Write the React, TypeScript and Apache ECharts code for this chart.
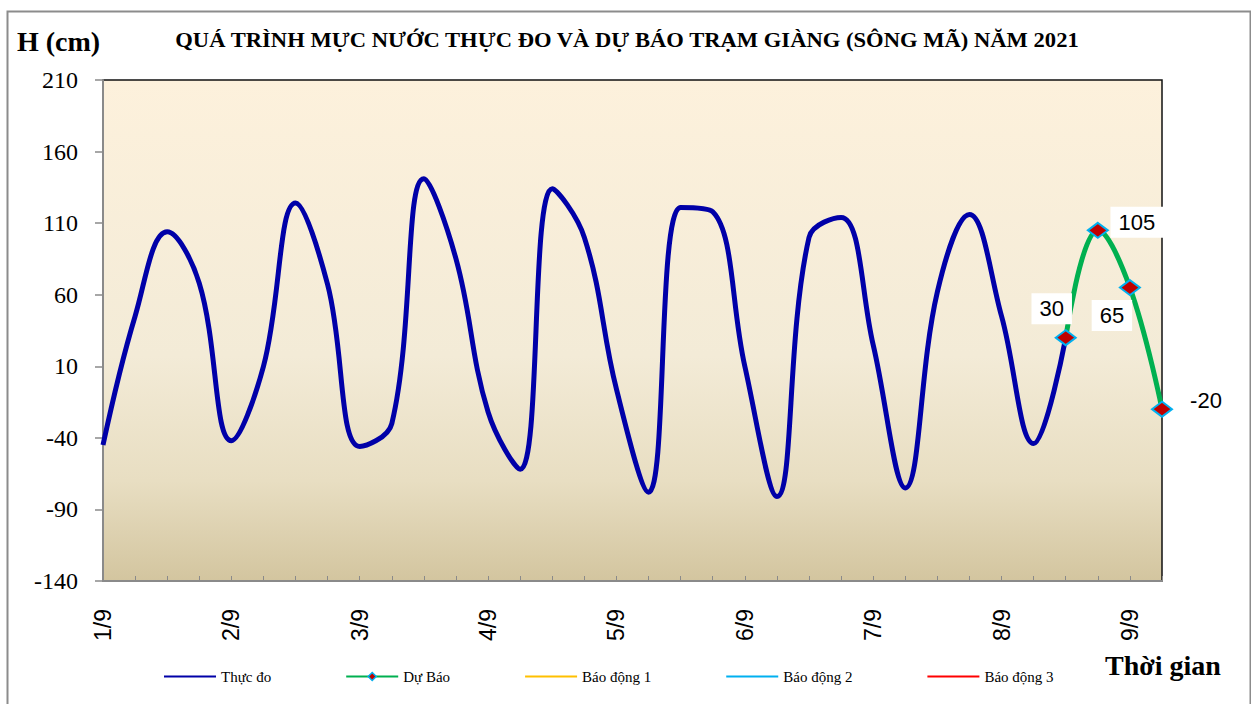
import React, { useEffect, useRef } from "react";
import * as echarts from "echarts";

const dayLabels = ["1/9", "2/9", "3/9", "4/9", "5/9", "6/9", "7/9", "8/9", "9/9"];
const hourLabels = ["1h", "7h", "13h", "19h"];
const yTicks = [-140, -90, -40, 10, 60, 110, 160, 210];

// Observed water level (cm), every 6 hours
const observed = [
  -45, 45, 104, 68, -42, 10, 124, 67, -46, -30,
  141, 85, -22, -62, 134, 100, -6, -78, 121, 118,
  10, -81, 100, 114, 25, -75, 62, 116, 45, -44,
  30,
];
// Forecast (cm), starting at the last observed point
const forecastStart = 30;
const forecast = [30, 105, 65, -20];

const titleText = "QUÁ TRÌNH MỰC NƯỚC THỰC ĐO VÀ DỰ BÁO TRẠM GIÀNG (SÔNG MÃ) NĂM 2021";
const seriesNames = ["Thực đo", "Dự Báo", "Báo động 1", "Báo động 2", "Báo động 3"];
const alarmColors = ["#FFC000", "#00B0F0", "#FF0000"];

const categories: string[] = [];
dayLabels.forEach((d) => {
  hourLabels.forEach((h) => {
    if (categories.length < 34) categories.push(d + " " + h);
  });
});

const labelOffsets: [number, number][] = [
  [-14, -29],
  [39, -8],
  [-18, 28],
  [44, -9],
];

export default function App() {
  const ref = useRef<HTMLDivElement>(null);
  useEffect(() => {
    document.body.style.margin = "0";
    const chart = echarts.init(ref.current!, null, { renderer: "svg" });
    const obsData = categories.map((_, i) => (i < observed.length ? observed[i] : null));
    const fcSeriesData = categories.map((_, i) => {
      const k = i - forecastStart;
      if (k < 0 || k >= forecast.length) return null;
      const v = forecast[k];
      return {
        value: v,
        label: {
          show: true,
          position: "inside",
          offset: labelOffsets[k],
          formatter: String(v),
          fontFamily: "Liberation Sans, Arial, sans-serif",
          fontSize: 22,
          color: "#000",
          backgroundColor: k === 3 ? "transparent" : "#fff",
          padding: [5, 8, 4, 8],
        },
      };
    });
    const hiddenSymbol = { color: "rgba(0,0,0,0)", borderWidth: 0, opacity: 0 };
    const option: any = {
      animation: false,
      backgroundColor: "#fff",
      graphic: [
        {
          type: "rect",
          left: 5,
          top: 9,
          shape: { width: 1243, height: 710 },
          style: { fill: "none", stroke: "#8c8c8c", lineWidth: 2 },
          silent: true,
        },
        {
          type: "text",
          x: 627,
          y: 40,
          scaleX: 1.13,
          style: {
            text: titleText,
            font: "bold 20px 'Liberation Serif', 'Times New Roman', serif",
            fill: "#000",
            textAlign: "center",
            textVerticalAlign: "middle",
          },
        },
        {
          type: "text",
          left: 17,
          top: 27,
          style: {
            text: "H (cm)",
            font: "bold 28px 'Liberation Serif', 'Times New Roman', serif",
            fill: "#000",
          },
        },
        {
          type: "text",
          left: 1105,
          top: 651,
          style: {
            text: "Thời gian",
            font: "bold 28px 'Liberation Serif', 'Times New Roman', serif",
            fill: "#000",
          },
        },
      ],
      legend: {
        left: 158,
        top: 664,
        itemWidth: 52,
        itemHeight: 10,
        itemGap: 74,
        textStyle: {
          fontFamily: "Liberation Serif, Times New Roman, serif",
          fontSize: 15,
          color: "#000",
        },
        data: [
          { name: seriesNames[0], itemStyle: hiddenSymbol, lineStyle: { width: 2, color: "#0000A8" } },
          {
            name: seriesNames[1],
            itemStyle: { color: "#C00000", borderColor: "#00B0F0", borderWidth: 1.5 },
            lineStyle: { width: 2, color: "#00B050" },
          },
          { name: seriesNames[2], itemStyle: hiddenSymbol, lineStyle: { width: 2, color: alarmColors[0] } },
          { name: seriesNames[3], itemStyle: hiddenSymbol, lineStyle: { width: 2, color: alarmColors[1] } },
          { name: seriesNames[4], itemStyle: hiddenSymbol, lineStyle: { width: 2, color: alarmColors[2] } },
        ],
      },
      grid: {
        left: 103,
        right: 89,
        top: 80,
        bottom: 123,
        show: true,
        borderColor: "#111",
        borderWidth: 1.5,
        backgroundColor: new echarts.graphic.LinearGradient(0, 0, 0, 1, [
          { offset: 0, color: "#FDF1DC" },
          { offset: 0.55, color: "#F3EBD7" },
          { offset: 0.8, color: "#E8DEC2" },
          { offset: 1, color: "#D3C59F" },
        ]),
      },
      xAxis: {
        type: "category",
        data: categories,
        boundaryGap: false,
        axisLine: { show: true, onZero: false, lineStyle: { color: "#8a8a8a", width: 2 } },
        axisTick: {
          show: true,
          interval: 0,
          inside: true,
          length: 5,
          lineStyle: { color: "#8a8a8a", width: 1 },
        },
        axisLabel: {
          interval: 3,
          rotate: 90,
          margin: 28,
          fontFamily: "Liberation Sans, Arial, sans-serif",
          fontSize: 23,
          color: "#000",
          formatter: (v: string) => v.split(" ")[0],
        },
        splitLine: { show: false },
      },
      yAxis: {
        type: "value",
        min: yTicks[0],
        max: yTicks[yTicks.length - 1],
        interval: yTicks[1] - yTicks[0],
        axisLine: { show: true, lineStyle: { color: "#8a8a8a", width: 2 } },
        axisTick: { show: true, length: 8, lineStyle: { color: "#8a8a8a", width: 1.5 } },
        axisLabel: {
          margin: 25,
          fontFamily: "Liberation Serif, Times New Roman, serif",
          fontSize: 24,
          color: "#000",
        },
        splitLine: { show: false },
      },
      series: [
        {
          name: seriesNames[0],
          type: "line",
          data: obsData,
          smooth: 0.4,
          symbol: "none",
          color: "#0000A8",
          lineStyle: { color: "#0000A8", width: 5 },
          z: 3,
        },
        {
          name: seriesNames[1],
          type: "line",
          data: fcSeriesData,
          smooth: 0.4,
          symbol: "diamond",
          symbolSize: [20, 15],
          showAllSymbol: true,
          color: "#00B050",
          lineStyle: { color: "#00B050", width: 5 },
          itemStyle: { color: "#C00000", borderColor: "#00B0F0", borderWidth: 2 },
          z: 4,
        },
        ...alarmColors.map((c, i) => ({
          name: seriesNames[i + 2],
          type: "line",
          data: [],
          symbol: "none",
          color: c,
          lineStyle: { color: c, width: 2 },
        })),
      ],
    };
    chart.setOption(option);
    return () => chart.dispose();
  }, []);
  return <div ref={ref} style={{ width: 1251, height: 704 }} />;
}
